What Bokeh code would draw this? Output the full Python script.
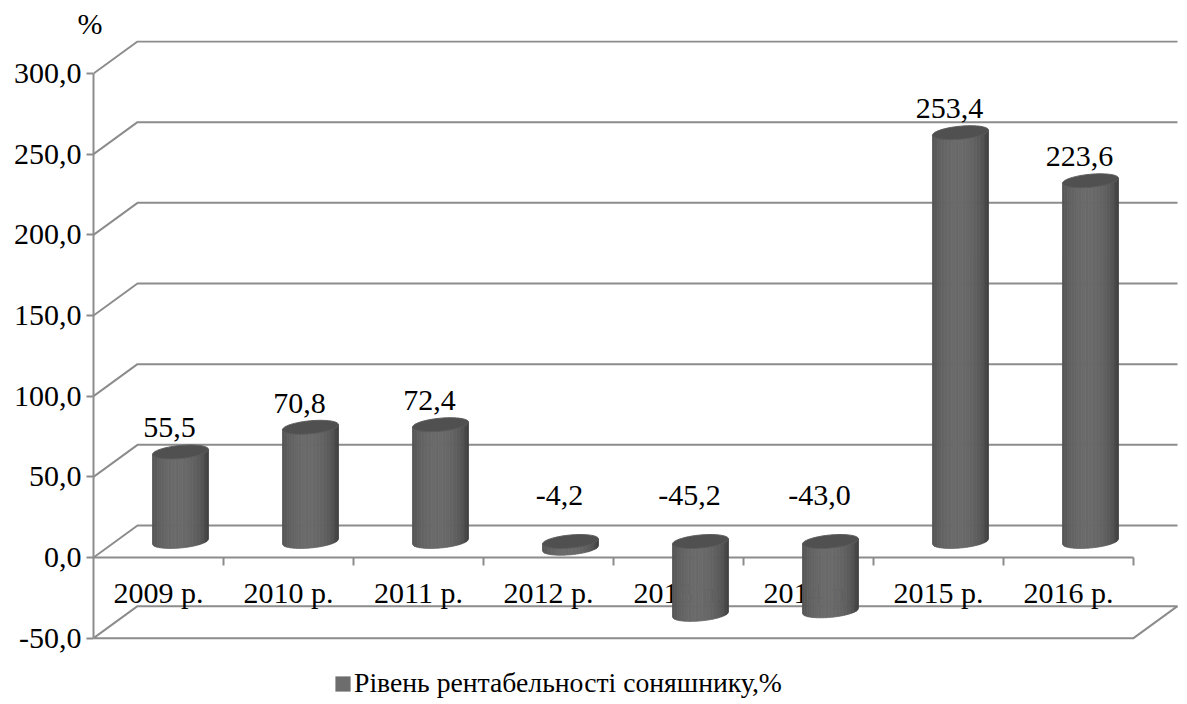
import numpy as np
from bokeh.plotting import figure
from bokeh.models import Range1d, LinearAxis, FixedTicker, Legend, LegendItem, Title
from bokeh.embed import file_html
from bokeh.resources import INLINE
from bokeh.core.properties import value

# ---------------- data ----------------
categories = ["2009 р.", "2010 р.", "2011 р.", "2012 р.", "2013 р.", "2014 р.", "2015 р.", "2016 р."]
values = [55.5, 70.8, 72.4, -4.2, -45.2, -43.0, 253.4, 223.6]
value_labels = ["55,5", "70,8", "72,4", "-4,2", "-45,2", "-43,0", "253,4", "223,6"]
y_ticks = [-50, 0, 50, 100, 150, 200, 250, 300]
y_tick_labels = ["-50,0", "0,0", "50,0", "100,0", "150,0", "200,0", "250,0", "300,0"]
series_name = "Рівень рентабельності соняшнику,%"
unit_label = "%"

# ---------------- layout constants ----------------
W, H = 1187, 704
LEFT = 93        # frame left (front value axis)
TOP = 40         # frame top
PXX = 130.0      # px per category
PXY = 1.6133     # px per value unit
ZERO_Y = 557     # page row of front zero line
n = len(categories)
x_end = (W - LEFT) / PXX
y_end = (ZERO_Y - TOP) / PXY
y_start = -(H - ZERO_Y) / PXY
DX = 44 / PXX
DY = 32 / PXY
FONT = "Liberation Serif"
GRID = "#8c8c8c"

p = figure(width=W, height=H, x_range=Range1d(0, x_end), y_range=Range1d(y_start, y_end),
           x_axis_type=None, y_axis_type=None, output_backend="svg", toolbar_location=None,
           min_border_left=LEFT, min_border_right=0, min_border_top=TOP, min_border_bottom=0)
p.outline_line_color = None
p.background_fill_color = "white"

# unit label as left-aligned title
p.title = Title(text=unit_label, align="left", offset=-16, standoff=1,
                text_font=FONT, text_font_size="30px", text_font_style="normal",
                text_color="#000000")

# left value axis
yax = LinearAxis(ticker=FixedTicker(ticks=y_ticks), bounds=(min(y_ticks), max(y_ticks)))
yax.major_label_overrides = {t: l for t, l in zip(y_ticks, y_tick_labels)}
yax.axis_line_color = GRID
yax.axis_line_width = 2
yax.major_tick_line_color = GRID
yax.major_tick_line_width = 2
yax.major_tick_in = 0
yax.major_tick_out = 7
yax.minor_tick_line_color = None
yax.major_label_standoff = 5
yax.major_label_text_font = FONT
yax.major_label_text_font_size = "30px"
yax.major_label_text_color = "#000000"
p.add_layout(yax, "left")

# 3D grid lines (walls)
gx, gy = [], []
lo = min(y_ticks)
for t in y_ticks:
    if t == lo:
        gx.append([0, DX, n + DX, n, 0])
        gy.append([t, t + DY, t + DY, t, t])
    else:
        gx.append([0, DX, n + DX])
        gy.append([t, t + DY, t + DY])
# front category axis at zero with ticks
gx.append([0, n]); gy.append([0, 0])
for k in range(1, n + 1):
    gx.append([k, k]); gy.append([0, -8 / PXY])
p.multi_line(gx, gy, line_color=GRID, line_width=2)

# category labels
p.text(x=[i + 0.5 for i in range(n)], y=[-35 / PXY] * n, text=categories,
       text_font=value(FONT), text_font_size="30px", text_color="#000000",
       text_align="center", text_baseline="middle")

# cylinders
RX, RY, K = 28.0, 6.5, 2.5
NS = 24
ue = np.linspace(-1, 1, NS + 1)

def shade(u):
    L = int(round(50 + 56 * np.sqrt(max(0.0, 1 - ((u + 0.1) / 1.1) ** 2))))
    return "#%02x%02x%02x" % (L, L, L)

sx, sy, sc = [], [], []
tx, ty = [], []
for i, v in enumerate(values):
    cx = i + 0.5 + DX / 2
    ytop = max(v, 0) + DY / 2
    ybot = min(v, 0) + DY / 2
    for j in range(NS):
        us = np.linspace(ue[j], ue[j + 1], 4)
        bx = cx + RX * us / PXX
        by = ybot + (K * us - RY * np.sqrt(np.clip(1 - us ** 2, 0, 1))) / PXY
        topx = bx[::-1]
        topy = ytop + K * us[::-1] / PXY
        sx.append(list(bx) + list(topx))
        sy.append(list(by) + list(topy))
        sc.append(shade(0.5 * (ue[j] + ue[j + 1])))
    t = np.linspace(0, 2 * np.pi, 73)
    tx.append(list(cx + RX * np.cos(t) / PXX))
    ty.append(list(ytop + (RY * np.sin(t) + K * np.cos(t)) / PXY))

p.patches(sx, sy, fill_color=sc, line_color=sc, line_width=0.8)
p.patches(tx, ty, fill_color="#505050", line_color="#5c5c5c", line_width=1)

# data labels
lx, ly = [], []
for i, v in enumerate(values):
    cx = i + 0.5 + DX / 2
    lx.append(cx - 11 / PXX)
    if v >= 0:
        ly.append(v + DY / 2 + 24 / PXY)
    else:
        ly.append(DY / 2 + 46 / PXY)
p.text(x=lx, y=ly, text=value_labels, text_font=value(FONT), text_font_size="30px",
       text_color="#000000", text_align="center", text_baseline="middle")

# legend (zero-height quads act as the series' legend swatch)
r = p.quad(left=[i + 0.5 for i in range(n)], right=[i + 0.5 for i in range(n)],
           bottom=[0] * n, top=[0] * n, fill_color="#6d6d6d", line_color=None)
leg = Legend(items=[LegendItem(label=value(series_name), renderers=[r])],
             location=(240, 5), orientation="horizontal", glyph_width=19, glyph_height=19,
             label_standoff=2, padding=0, margin=0, spacing=0,
             border_line_alpha=0, background_fill_alpha=0,
             label_text_font=FONT, label_text_font_size="27.7px", label_text_color="#000000")
p.add_layout(leg)

open("out.html", "w").write(file_html(p, INLINE))
